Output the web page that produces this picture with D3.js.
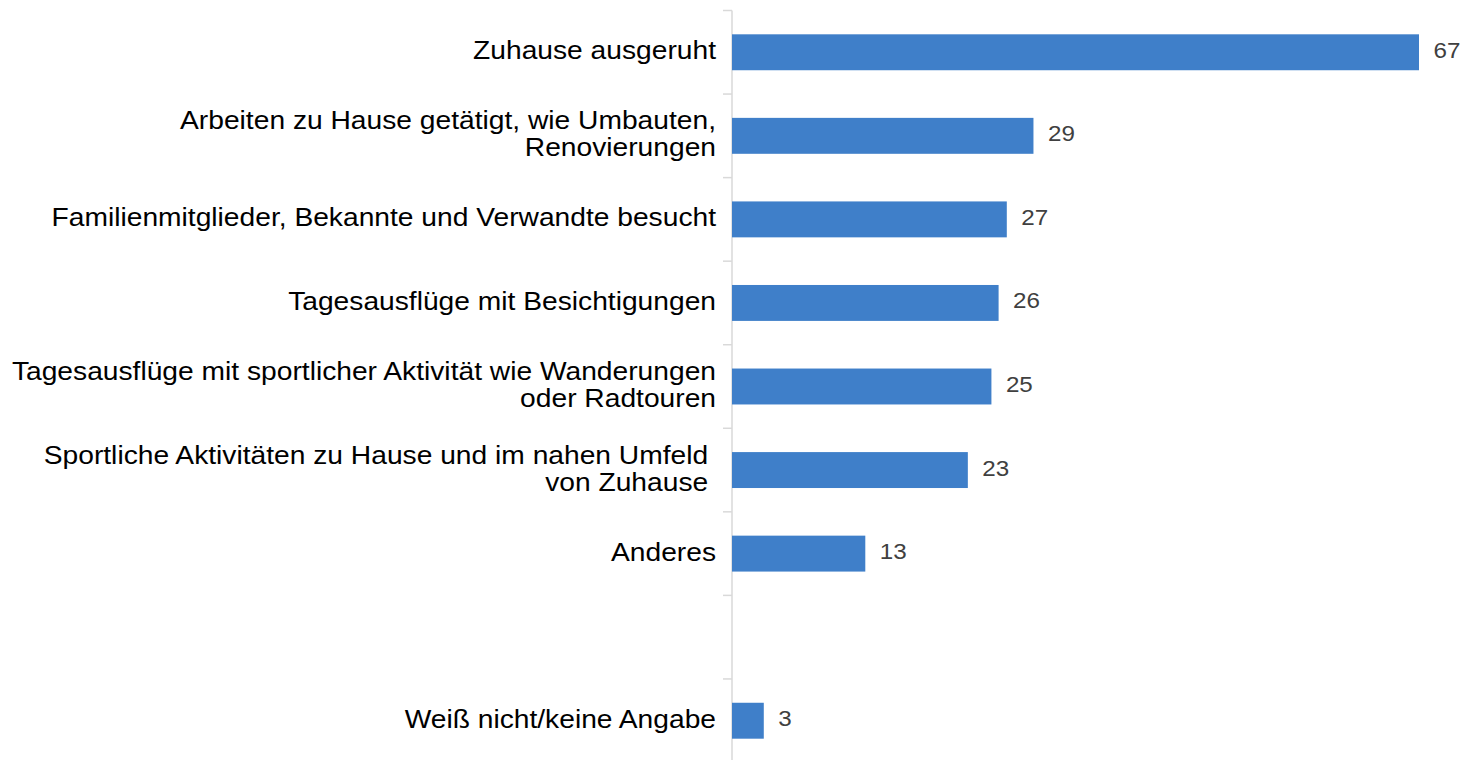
<!DOCTYPE html>
<html>
<head>
<meta charset="utf-8">
<script src="https://cdn.jsdelivr.net/npm/d3@7"></script>
<style>
  body { margin: 0; background: #fff; }
  text { font-family: "Liberation Sans", Arial, sans-serif; white-space: pre; }
</style>
</head>
<body>
<div id="chart"></div>
<script>
// Kategorien (leerer Eintrag = Lücke vor "Weiß nicht")
var categories = [
    ["Zuhause ausgeruht"],
    ["Arbeiten zu Hause getätigt, wie Umbauten,", "Renovierungen"],
    ["Familienmitglieder, Bekannte und Verwandte besucht"],
    ["Tagesausflüge mit Besichtigungen"],
    ["Tagesausflüge mit sportlicher Aktivität wie Wanderungen", "oder Radtouren"],
    ["Sportliche Aktivitäten zu Hause und im nahen Umfeld ", "von Zuhause "],
    ["Anderes"],
    [],
    ["Weiß nicht/keine Angabe"]
];
var values = [67, 29.4, 26.8, 26, 25.3, 23, 13, null, 3.1];

var width = 1463, height = 760;
var x0 = 732;      // Achse
var plotTop = 10.5, plotBottom = 762.5;
var stretch = 1.085; // Text ist im Original etwas breit gezogen

var svg = d3.select("#chart").append("svg")
    .attr("width", width)
    .attr("height", height);

var y = d3.scaleBand()
    .domain(d3.range(categories.length))
    .range([plotTop, plotBottom])
    .paddingInner(0.57)
    .paddingOuter(0.285);

var x = d3.scaleLinear()
    .domain([0, 67])
    .range([x0, 1419]);

// Achse mit Teilstrichen an den Kategoriegrenzen
var step = y.step();
var g = svg.append("g");
g.append("line")
    .attr("x1", x0).attr("x2", x0)
    .attr("y1", plotTop).attr("y2", plotBottom)
    .attr("stroke", "#d9d9d9").attr("stroke-width", 1.5);
g.selectAll("line.tick")
    .data(d3.range(categories.length + 1))
    .enter().append("line")
    .attr("class", "tick")
    .attr("x1", x0 - 9).attr("x2", x0)
    .attr("y1", function(i){ return plotTop + i * step; })
    .attr("y2", function(i){ return plotTop + i * step; })
    .attr("stroke", "#d9d9d9").attr("stroke-width", 1.5);

var idx = d3.range(categories.length).filter(function(i){ return values[i] != null; });

// Balken
svg.selectAll("rect.bar")
    .data(idx)
    .enter().append("rect")
    .attr("class", "bar")
    .attr("x", x0)
    .attr("y", function(i){ return y(i); })
    .attr("width", function(i){ return x(values[i]) - x0; })
    .attr("height", y.bandwidth())
    .attr("fill", "#3f7fc9");

// Werte
svg.selectAll("text.val")
    .data(idx)
    .enter().append("text")
    .attr("class", "val")
    .attr("transform", function(i){
        return "translate(" + (x(values[i]) + 14.5) + "," + (y(i) + y.bandwidth() / 2 + 5.5) + ") scale(1.1,1)";
    })
    .attr("font-size", 22)
    .attr("fill", "#404040")
    .text(function(i){ return Math.round(values[i]); });

// Kategorienbeschriftung
var lab = svg.selectAll("g.cat")
    .data(d3.range(categories.length))
    .enter().append("g")
    .attr("class", "cat");
lab.each(function(i){
    var lines = categories[i];
    var cy = y(i) + y.bandwidth() / 2;
    var lh = 27;
    var t = d3.select(this);
    lines.forEach(function(s, k){
        t.append("text")
            .attr("text-anchor", "end")
            .attr("font-size", 26)
            .attr("fill", "#000")
            .attr("transform", "translate(716," + (cy + (k - (lines.length - 1) / 2) * lh + 7) + ") scale(" + stretch + ",1)")
            .text(s);
    });
});
</script>
</body>
</html>
